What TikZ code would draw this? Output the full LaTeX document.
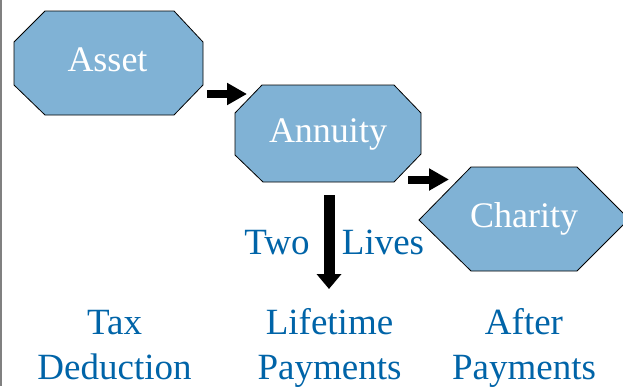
\documentclass[tikz,border=0pt]{standalone}
\usepackage{fontspec}
\setmainfont{Liberation Serif}
\usetikzlibrary{arrows.meta}
\definecolor{boxfill}{RGB}{128,178,213}
\definecolor{labelblue}{RGB}{0,100,168}
\begin{document}
\begin{tikzpicture}[x=1pt,y=-1pt,
  boxshape/.style={draw=black, line width=0.8pt, fill=boxfill, line join=miter},
  boxtext/.style={text=white, font=\fontsize{36}{40}\selectfont, inner sep=0pt, anchor=base},
  lbl/.style={text=labelblue, font=\fontsize{37}{45}\selectfont, inner sep=0pt, anchor=base},
  blockarrow/.style={draw=black, line width=8pt, -{Triangle[length=20pt,width=21pt]}}
]
\useasboundingbox (0,0) rectangle (623,386);
\fill[white] (0,0) rectangle (623,386);
\draw[gray, line width=1.5pt] (1,0) -- (1,386);

\draw[boxshape] (14,42) -- (45,11) -- (174,11) -- (203,42) -- (203,85) -- (174,115) -- (45,115) -- (14,85) -- cycle;
\draw[boxshape] (235,113) -- (262,85) -- (394,85) -- (421,113) -- (421,154) -- (394,182) -- (263,182) -- (235,155) -- cycle;
\draw[boxshape] (419,220) -- (471,167) -- (577,167) -- (629,219) -- (577,271) -- (471,271) -- cycle;

\node[boxtext] (asset) at (107.5,71.5) {Asset};
\node[boxtext] (annuity) at (328,142.5) {Annuity};
\node[boxtext] (charity) at (524,227) {Charity};

\coordinate (a1s) at (207,94);
\coordinate (a1e) at (247,94);
\coordinate (a2s) at (408,179.5);
\coordinate (a2e) at (449,179.5);
\coordinate (a3s) at (329,195);
\coordinate (a3e) at (329,289);
\draw[blockarrow] (a1s) -- (a1e);
\draw[blockarrow] (a2s) -- (a2e);
\draw[draw=black, line width=11pt, -{Triangle[length=15pt,width=24pt]}] (a3s) -- (a3e);

\node[lbl] (two) at (277,254) {Two};
\node[lbl] (lives) at (383,254) {Lives};

\node[lbl] (tax) at (114.5,334) {Tax};
\node[lbl] (deduction) at (114.5,379) {Deduction};
\node[lbl] (lifetime) at (329.5,334) {Lifetime};
\node[lbl] (payments1) at (329.5,379) {Payments};
\node[lbl] (after) at (524,334) {After};
\node[lbl] (payments2) at (524,379) {Payments};
\end{tikzpicture}
\end{document}
